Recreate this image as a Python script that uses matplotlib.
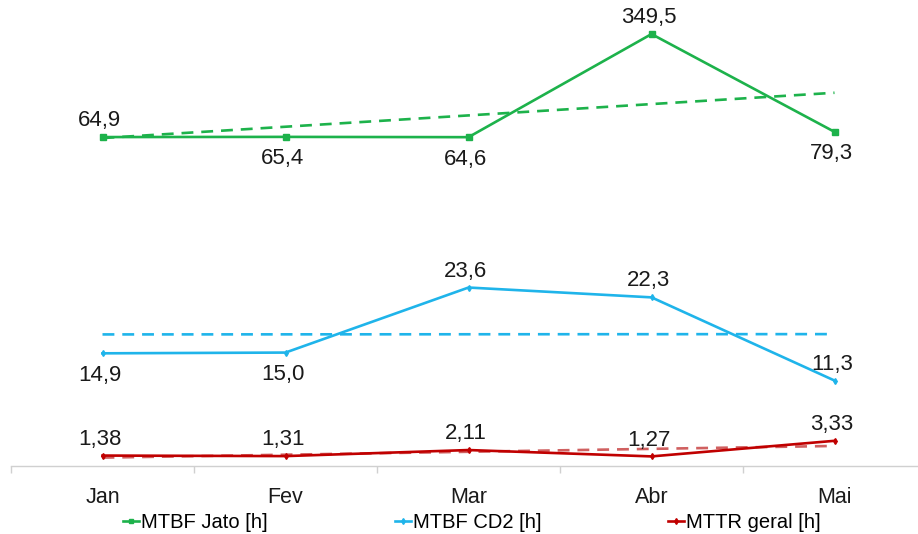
import numpy as np
import matplotlib
matplotlib.use("Agg")
import matplotlib.pyplot as plt
from matplotlib.lines import Line2D

plt.rcParams['font.family'] = ['Liberation Sans', 'DejaVu Sans']

months = ["Jan", "Fev", "Mar", "Abr", "Mai"]
mtbf_jato = [64.9, 65.4, 64.6, 349.5, 79.3]
mtbf_cd2 = [14.9, 15.0, 23.6, 22.3, 11.3]
mttr_geral = [1.38, 1.31, 2.11, 1.27, 3.33]

jato_pos = ["above", "below", "below", "above", "below"]
cd2_pos = ["below", "below", "above", "above", "above"]
mttr_pos = ["above", "above", "above", "above", "above"]

GREEN = "#1DB24B"
BLUE = "#1FB4EA"
RED = "#C00000"
RED_TREND = "#D06060"

W, H = 918, 534
fig = plt.figure(figsize=(W / 100, H / 100), dpi=100)
ax = fig.add_axes([11 / W, (H - 466) / H, 915 / W, 456 / H])
ax2 = ax.twinx()

x = np.arange(len(months))


def trend(vals):
    c = np.polyfit(x, vals, 1)
    return np.polyval(c, x)


def fmt(v, dec):
    return f"{v:.{dec}f}".replace(".", ",")


def draw(a, vals, color, tcolor, marker, ms, pos, dec):
    a.plot(x, vals, color=color, lw=1.9, marker=marker, ms=ms, zorder=3)
    a.plot(x, trend(vals), color=tcolor, lw=1.9, ls=(0, (4.5, 3)), zorder=2)
    for xi, v, p in zip(x, vals, pos):
        off = 11.8 if p == "above" else -15.8
        a.annotate(fmt(v, dec), (xi, v), xytext=(-2, off), textcoords="offset points",
                   ha="center", va="center", fontsize=16, color="#1a1a1a")


draw(ax, mtbf_cd2, BLUE, BLUE, "d", 3, cd2_pos, 1)
draw(ax, mttr_geral, RED, RED_TREND, "d", 3, mttr_pos, 2)
draw(ax2, mtbf_jato, GREEN, GREEN, "s", 4, jato_pos, 1)

ax.set_ylim(0, 60.3)
ax2.set_ylim(-844, 416)
ax.set_xlim(-0.5, len(months) - 0.5)

for a in (ax, ax2):
    for s in ("top", "right", "left"):
        a.spines[s].set_visible(False)
    a.set_yticks([])
ax2.spines["bottom"].set_visible(False)
ax.spines["bottom"].set_color("#D0D0D0")
ax.spines["bottom"].set_linewidth(1.0)

ax.set_xticks(x)
ax.set_xticklabels(months, fontsize=15.5, color="#1a1a1a")
ax.tick_params(axis="x", which="major", length=0, pad=15)
ax.set_xticks(np.arange(-0.5, len(months)), minor=True)
ax.tick_params(axis="x", which="minor", length=5, color="#D0D0D0", width=1.0)

handles = [
    Line2D([], [], color=GREEN, lw=1.9, marker="s", ms=3.5),
    Line2D([], [], color=BLUE, lw=1.9, marker="d", ms=3),
    Line2D([], [], color=RED, lw=1.9, marker="d", ms=3),
]
labels = ["MTBF Jato [h]", "MTBF CD2 [h]", "MTTR geral [h]"]
fig.legend(handles, labels, loc="center", bbox_to_anchor=(472 / W, 1 - 523 / H), ncol=3,
           frameon=False, fontsize=14.5, handlelength=0.8, handletextpad=0.1,
           columnspacing=6.3)

fig.savefig("out.png", dpi=100)
